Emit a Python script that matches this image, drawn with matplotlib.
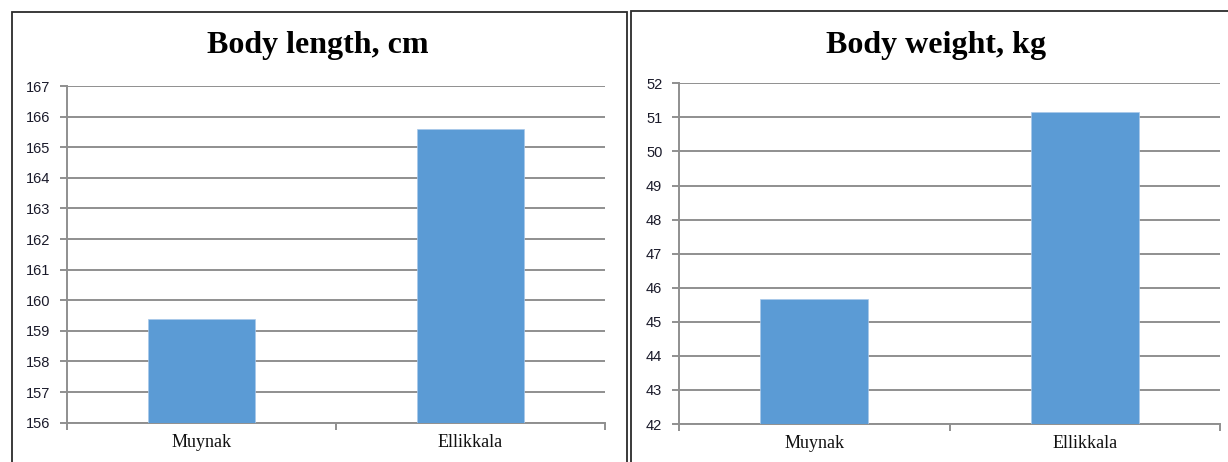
import matplotlib
matplotlib.use("Agg")
import matplotlib.pyplot as plt
from matplotlib.patches import Rectangle
import numpy as np

categories = ["Muynak", "Ellikkala"]
length_values = [159.4, 165.6]
weight_values = [45.67, 51.17]
titles = ["Body length, cm", "Body weight, kg"]
length_ticks = list(range(156, 168))
weight_ticks = list(range(42, 53))

W, H = 1228, 462
fig = plt.figure(figsize=(W / 100, H / 100), dpi=100)
fig.patch.set_facecolor("white")

def px(x0, y0, x1, y1):
    return [x0 / W, 1 - y1 / H, (x1 - x0) / W, (y1 - y0) / H]

# panel borders
for (x0, y0, x1, y1) in [(11.5, 12.5, 626.5, 480), (631.5, 10.5, 1260, 480)]:
    fig.patches.append(Rectangle((x0 / W, 1 - y1 / H), (x1 - x0) / W, (y1 - y0) / H,
                                 transform=fig.transFigure, fill=False,
                                 edgecolor="#2b2b2b", linewidth=1.3, zorder=0))

grid_c = "#8f8f8f"
bar_c = "#5B9BD5"

def draw(rect, values, ticks, title, title_x):
    ax = fig.add_axes(rect)
    x = np.arange(len(categories))
    ax.bar(x, values, width=0.4, color=bar_c, edgecolor="#a9c8ea", linewidth=0.5, zorder=3)
    ax.set_xlim(-0.5, len(categories) - 0.5)
    ax.set_ylim(ticks[0], ticks[-1])
    ax.set_yticks(ticks)
    ax.set_yticklabels([str(t) for t in ticks], fontfamily="Liberation Sans",
                       fontsize=10.5, color="#1a1a2a")
    ax.yaxis.grid(True, color=grid_c, linewidth=1.4, zorder=0)
    ax.set_axisbelow(True)
    ax.set_xticks(np.arange(-0.5, len(categories)))
    ax.set_xticklabels([])
    ax.set_xticks(x, minor=True)
    ax.set_xticklabels(categories, minor=True, fontfamily="Liberation Serif",
                       fontsize=13, color="#111111")
    ax.tick_params(axis="x", which="major", length=5, width=1.4, color=grid_c, direction="out")
    ax.tick_params(axis="x", which="minor", length=0, pad=8)
    ax.tick_params(axis="y", length=5, width=1.4, color=grid_c, pad=7)
    for s in ["top", "right"]:
        ax.spines[s].set_visible(False)
    for s in ["left", "bottom"]:
        ax.spines[s].set_color(grid_c)
        ax.spines[s].set_linewidth(1.4)
    ax.set_facecolor("none")
    fig.text(title_x / W, 1 - 46 / H, title, ha="center", va="center",
             fontfamily="Liberation Serif", fontweight="bold", fontsize=23, color="black")
    return ax

draw(px(67, 86, 605, 422.7), length_values, length_ticks, titles[0], 318)
draw(px(679, 83.3, 1220, 424), weight_values, weight_ticks, titles[1], 936)

fig.savefig("out.png", dpi=100, facecolor="white")
